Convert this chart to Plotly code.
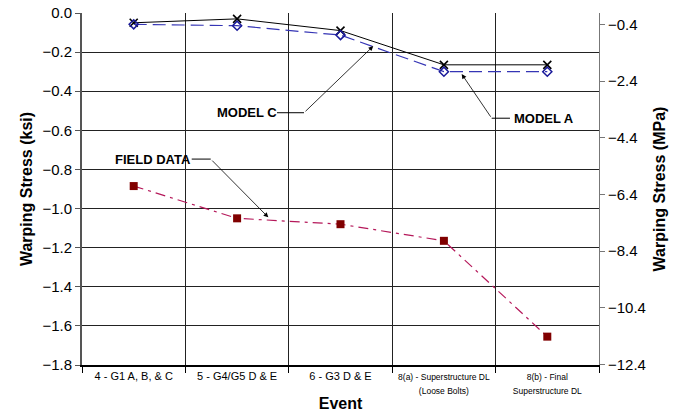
import plotly.graph_objects as go

categories = ["4 - G1 A, B, & C", "5 - G4/G5 D & E", "6 - G3 D & E",
              "8(a) - Superstructure DL (Loose Bolts)", "8(b) - Final Superstructure DL"]
tick_labels = ["4 - G1 A, B, & C", "5 - G4/G5 D & E", "6 - G3 D & E",
               "<span style='font-size:8.5px'>8(a) - Superstructure DL<br>(Loose Bolts)</span>",
               "<span style='font-size:8.5px'>8(b) - Final<br>Superstructure DL</span>"]
model_c = [-0.05, -0.03, -0.09, -0.265, -0.265]
model_a = [-0.058, -0.065, -0.113, -0.30, -0.30]
field_data = [-0.885, -1.05, -1.08, -1.165, -1.655]
left_ticks = [0.0, -0.2, -0.4, -0.6, -0.8, -1.0, -1.2, -1.4, -1.6, -1.8]
right_ticks = [-0.4, -2.4, -4.4, -6.4, -8.4, -10.4, -12.4]
KSI_TO_MPA = 6.895

FONT = "Arial, 'Liberation Sans', sans-serif"

fig = go.Figure()
fig.add_trace(go.Scatter(x=categories, y=model_c, mode="lines+markers",
                         line=dict(color="black", width=1),
                         marker=dict(symbol="x-thin", size=8, line=dict(color="black", width=1.6)),
                         name="MODEL C"))
fig.add_trace(go.Scatter(x=categories, y=model_a, mode="lines+markers",
                         line=dict(color="#3535b5", width=1.2, dash="13px,6px"),
                         marker=dict(symbol="diamond-open", size=7, color="#1a1a9a", line=dict(width=1.5)),
                         name="MODEL A"))
fig.add_trace(go.Scatter(x=categories, y=field_data, mode="lines+markers",
                         line=dict(color="#b5185a", width=1.2, dash="10px,5px,3px,5px"),
                         marker=dict(symbol="square", size=8, color="#800000"),
                         name="FIELD DATA"))
# same field data expressed in MPa on the secondary axis (invisible, just to activate the axis)
fig.add_trace(go.Scatter(x=categories, y=[v * KSI_TO_MPA for v in field_data], mode="lines",
                         line=dict(width=0), opacity=0, yaxis="y2", hoverinfo="skip",
                         name="FIELD DATA (MPa)"))

ann_font = dict(family=FONT, size=13, color="black")
annotations = []
shapes = []
# (text, text_x, text_y, elbow_x0, elbow_x1, tip_x, tip_y)
callouts = [
    ("<b>MODEL C</b>", 1.096, -0.510, 1.386, 1.647, 2.317, -0.169),
    ("<b>MODEL A</b>", 3.968, -0.538, 3.639, 3.462, 3.172, -0.312),
    ("<b>FIELD DATA</b>", 0.190, -0.747, 0.561, 0.745, 1.302, -1.045),
]
for text, tx, ty, ex0, ex1, px, py in callouts:
    annotations.append(dict(x=tx, y=ty, xref="x", yref="y", text=text, showarrow=False,
                            font=ann_font))
    shapes.append(dict(type="line", xref="x", yref="y", x0=ex0, x1=ex1, y0=ty, y1=ty,
                       line=dict(color="black", width=1)))
    annotations.append(dict(x=px, y=py, xref="x", yref="y", ax=ex1, ay=ty, axref="x", ayref="y",
                            text="", showarrow=True, arrowhead=2, arrowsize=1.2, arrowwidth=0.8,
                            arrowcolor="black", standoff=0, startstandoff=0))

fig.update_layout(
    width=681, height=420,
    margin=dict(l=82, r=82, t=13, b=55),
    paper_bgcolor="white", plot_bgcolor="white",
    showlegend=False,
    font=dict(family=FONT, color="black"),
    annotations=annotations,
    shapes=shapes,
    xaxis=dict(type="category", categoryorder="array", categoryarray=categories,
               tickmode="array", tickvals=categories, ticktext=tick_labels,
               tickson="boundaries", showgrid=True, gridcolor="#222222", gridwidth=1,
               ticks="outside", ticklen=6, tickcolor="black",
               showline=True, linecolor="black", linewidth=1.5,
               tickfont=dict(size=11, family=FONT),
               title=dict(text="<b>Event</b>", font=dict(size=16, family=FONT), standoff=3),
               range=[-0.5, 4.5], automargin=False),
    yaxis=dict(range=[-1.8, 0], tickvals=left_ticks, tickformat=".1f",
               showgrid=True, gridcolor="#222222", gridwidth=1, zeroline=False,
               ticks="outside", ticklen=5, tickcolor="#555555",
               showline=True, linecolor="#555555", linewidth=2,
               tickfont=dict(size=15, family=FONT), automargin=False,
               title=dict(text="<b>Warping Stress (ksi)</b>", font=dict(size=16, family=FONT), standoff=6)),
    yaxis2=dict(range=[-1.8 * KSI_TO_MPA, 0], tickvals=right_ticks, tickformat=".1f",
                overlaying="y", side="right", showgrid=False, zeroline=False,
                ticks="outside", ticklen=5, tickcolor="#777777",
                showline=True, linecolor="#777777", linewidth=1,
                tickfont=dict(size=15, family=FONT), automargin=False,
                title=dict(text="<b>Warping Stress (MPa)</b>", font=dict(size=16, family=FONT), standoff=8)),
)

fig.write_html("out.html", config={"displayModeBar": False},
               post_script="document.body.style.margin='0px';")
